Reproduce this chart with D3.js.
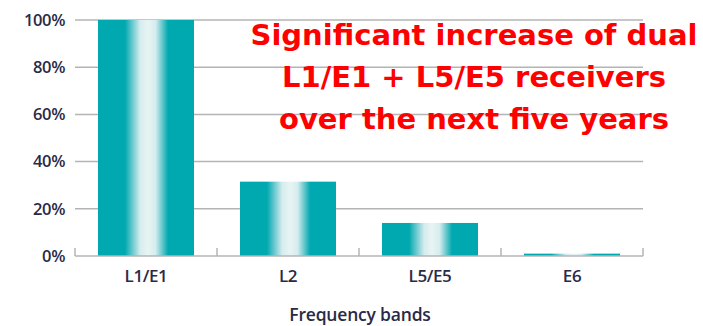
<!DOCTYPE html>
<html>
<head>
<meta charset="utf-8">
<script src="https://cdn.jsdelivr.net/npm/d3@7"></script>
<style>
  html, body { margin: 0; padding: 0; background: #fff; }
  svg { display: block; }
</style>
</head>
<body>
<svg id="chart" width="703" height="326"></svg>
<script>
// Share of receivers per frequency band
const bands = ["L1/E1", "L2", "L5/E5", "E6"];
const shares = [100, 31.5, 14, 1];
const yTicks = [0, 20, 40, 60, 80, 100];
const titleLines = [
  "Significant increase of dual",
  "L1/E1 + L5/E5 receivers",
  "over the next five years"
];
const xTitle = "Frequency bands";

const svg = d3.select("#chart");
const plotLeft = 75, plotRight = 643, plotTop = 20, plotBottom = 256;

const x = d3.scaleBand().domain(bands).range([plotLeft, plotRight])
  .paddingInner(0.324).paddingOuter(0.162);
const y = d3.scaleLinear().domain([0, 100]).range([plotBottom, plotTop]);

// Horizontal bar shading: teal edges with a pale centre
const defs = svg.append("defs");
const grad = defs.append("linearGradient").attr("id", "barShade")
  .attr("x1", "0%").attr("x2", "100%").attr("y1", "0%").attr("y2", "0%");
[[0, "#00a8b0"], [0.28, "#00a8b0"], [0.44, "#d6ecee"], [0.52, "#e8f4f4"],
 [0.60, "#d6ecee"], [0.73, "#00a8b0"], [1, "#00a8b0"]]
  .forEach(([o, c]) => grad.append("stop").attr("offset", o).attr("stop-color", c));

const labelColor = "#2a2a48";
const lineColor = "#b4b4b4";
const labelFont = "Open Sans, sans-serif";

// Gridlines
svg.append("g").selectAll("line").data(yTicks.filter(d => d > 0)).join("line")
  .attr("x1", plotLeft).attr("x2", plotRight)
  .attr("y1", d => y(d)).attr("y2", d => y(d))
  .attr("stroke", lineColor).attr("stroke-width", 1.5);

// Y axis labels
const yAxis = d3.axisLeft(y).tickValues(yTicks).tickFormat(d => d + "%").tickSize(0).tickPadding(10);
const yg = svg.append("g").attr("transform", `translate(${plotLeft},0)`).call(yAxis);
yg.select(".domain").remove();
yg.selectAll("text").attr("font-family", labelFont).attr("font-size", 16.5)
  .attr("font-weight", 600).attr("fill", labelColor).attr("letter-spacing", "-0.4");

// Bars
svg.append("g").selectAll("rect").data(bands).join("rect")
  .attr("x", d => x(d)).attr("width", x.bandwidth())
  .attr("y", (d, i) => y(shares[i]))
  .attr("height", (d, i) => plotBottom - y(shares[i]))
  .attr("fill", "url(#barShade)");

// Baseline with band separators
const boundaries = [plotLeft].concat(bands.map(b => x(b) + x.bandwidth() + x.step() * x.paddingInner() / 2));
boundaries[boundaries.length - 1] = plotRight;
const base = svg.append("g");
base.append("line").attr("x1", plotLeft).attr("x2", plotRight).attr("y1", plotBottom).attr("y2", plotBottom)
  .attr("stroke", lineColor).attr("stroke-width", 1.5);
base.selectAll("line.sep").data(boundaries).join("line").attr("class", "sep")
  .attr("x1", d => d).attr("x2", d => d).attr("y1", plotBottom - 8).attr("y2", plotBottom)
  .attr("stroke", lineColor).attr("stroke-width", 1.5);

// X axis labels
const xAxis = d3.axisBottom(x).tickSize(0).tickPadding(14);
const xg = svg.append("g").attr("transform", `translate(0,${plotBottom})`).call(xAxis);
xg.select(".domain").remove();
xg.selectAll("text").attr("font-family", labelFont).attr("font-size", 17)
  .attr("font-weight", 600).attr("fill", labelColor).attr("letter-spacing", "-0.4");

svg.append("text").attr("x", 360).attr("y", 321)
  .attr("text-anchor", "middle").attr("font-family", labelFont)
  .attr("font-size", 17.5).attr("font-weight", 600).attr("fill", labelColor)
  .attr("letter-spacing", "-0.2")
  .text(xTitle);

// Headline
svg.append("g").selectAll("text").data(titleLines).join("text")
  .attr("x", 474).attr("y", (d, i) => 45 + i * 42)
  .attr("text-anchor", "middle")
  .attr("font-family", "DejaVu Sans, Verdana, sans-serif").attr("font-weight", "bold")
  .attr("font-size", 29).attr("fill", "#ff0000")
  .text(d => d);
</script>
</body>
</html>
